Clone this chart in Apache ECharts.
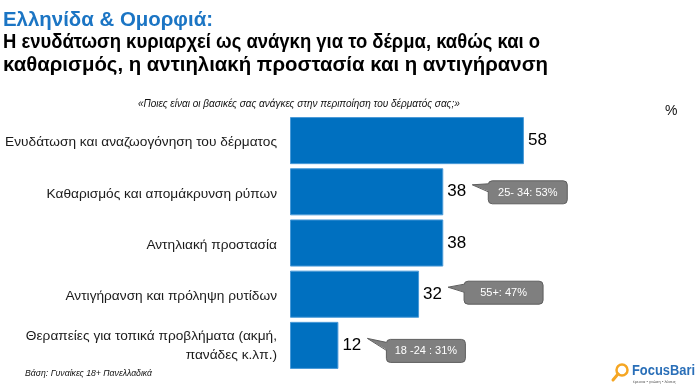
<!DOCTYPE html>
<html>
<head>
<meta charset="utf-8">
<script src="https://cdn.jsdelivr.net/npm/echarts@6/dist/echarts.min.js"></script>
<style>
html,body{margin:0;padding:0;background:#fff;}
#c{width:700px;height:390px;}
</style>
</head>
<body>
<div id="c"></div>
<script>
const categories = [
  'Ενυδάτωση και αναζωογόνηση του δέρματος',
  'Καθαρισμός και απομάκρυνση ρύπων',
  'Αντηλιακή προστασία',
  'Αντιγήρανση και πρόληψη ρυτίδων',
  'Θεραπείες για τοπικά προβλήματα (ακμή,\nπανάδες κ.λπ.)'
];
const values = [58, 38, 38, 32, 12];
const calloutCategories = [1, 3, 4];
const calloutTexts = ['25- 34: 53%', '55+: 47%', '18 -24 : 31%'];

const titleLine1 = 'Ελληνίδα & Ομορφιά:';
const titleLine2 = 'Η ενυδάτωση κυριαρχεί ως ανάγκη για το δέρμα, καθώς και ο';
const titleLine3 = 'καθαρισμός, η αντιηλιακή προστασία και η αντιγήρανση';
const question = '«Ποιες είναι οι βασικές σας ανάγκες στην περιποίηση του δέρματός σας;»';
const baseNote = 'Βάση: Γυναίκες 18+ Πανελλαδικά';

// layout only: annotation nudges and title line widths (px)
const calloutNudge = [[0, 0], [0, -2], [3, 5]];
const titleWidths = [210, 537, 545];

const FONT = '"Liberation Sans", Arial, sans-serif';
const TITLE_FONT = 'bold 20px ' + FONT;

const ctx = document.createElement('canvas').getContext('2d');
function textWidth(t, f) { ctx.font = f; return ctx.measureText(t).width; }
const titleScales = [titleLine1, titleLine2, titleLine3].map((t, i) => titleWidths[i] / textWidth(t, TITLE_FONT));
const logoFont = 'bold 14px ' + FONT;
const logoScale = 63 / textWidth('FocusBari', logoFont);

const calloutData = calloutCategories.map((c, i) => [values[c], c, i]);

const chart = echarts.init(document.getElementById('c'), null, {renderer: 'canvas'});

const option = {
  backgroundColor: '#ffffff',
  animation: false,
  grid: {left: 290, top: 115, width: 242, height: 256, containLabel: false},
  xAxis: {type: 'value', min: 0, max: 60, show: false},
  yAxis: {
    type: 'category', inverse: true, data: categories,
    axisLine: {show: false}, axisTick: {show: false}, splitLine: {show: false},
    axisLabel: {
      margin: 13, align: 'right',
      formatter: function (v) {
        if (v.indexOf('\n') >= 0) {
          return v.split('\n').map(s => '{m|' + s + '}').join('\n');
        }
        return '{s|' + v + '}';
      },
      rich: {
        s: {fontFamily: FONT, fontSize: 13.7, color: '#1a1a1a', padding: [4, 0, 0, 0], align: 'right'},
        m: {fontFamily: FONT, fontSize: 13.7, color: '#1a1a1a', lineHeight: 19, align: 'right'}
      }
    }
  },
  series: [
    {
      type: 'bar',
      data: values,
      barCategoryGap: '8%',
      itemStyle: {color: '#0070C0', borderColor: '#4a9ad8', borderWidth: 1},
      label: {
        show: true, position: 'right', distance: 4,
        fontFamily: FONT, fontSize: 17, color: '#000'
      },
      z: 2
    },
    {
      type: 'custom',
      data: calloutData,
      encode: {x: 0, y: 1},
      z: 5,
      renderItem: function (params, api) {
        const p = api.coord([api.value(0), api.value(1)]);
        const idx = api.value(2);
        const nd = calloutNudge[idx];
        const bx = p[0] + 45 + nd[0], by = p[1] - 11 + nd[1], bw = 79, bh = 23;
        const tip = [p[0] + 29, p[1] - 7];
        return {
          type: 'group',
          children: [
            {
              type: 'rect',
              shape: {x: bx, y: by, width: bw, height: bh, r: 4},
              style: {fill: '#7f7f7f', stroke: '#5e5e5e', lineWidth: 1}
            },
            {
              type: 'polygon',
              shape: {points: [tip, [bx + 1.5, by + 3], [bx + 1.5, by + 11]]},
              style: {fill: '#7f7f7f', stroke: null}
            },
            {
              type: 'polyline',
              shape: {points: [[bx, by + 3], tip, [bx, by + 11]]},
              style: {stroke: '#5e5e5e', lineWidth: 1, fill: null}
            },
            {
              type: 'text',
              style: {
                text: calloutTexts[idx], x: bx + bw / 2, y: by + bh / 2 + 0.5,
                align: 'center', verticalAlign: 'middle',
                font: '11px ' + FONT, fill: '#ffffff'
              }
            }
          ]
        };
      }
    }
  ],
  graphic: [
    {type: 'text', x: 3, y: 20, scaleX: titleScales[0], style: {text: titleLine1, x: 0, y: 0, verticalAlign: 'middle', font: TITLE_FONT, fill: '#1b75c4'}},
    {type: 'text', x: 3, y: 42, scaleX: titleScales[1], style: {text: titleLine2, x: 0, y: 0, verticalAlign: 'middle', font: TITLE_FONT, fill: '#000'}},
    {type: 'text', x: 3, y: 65, scaleX: titleScales[2], style: {text: titleLine3, x: 0, y: 0, verticalAlign: 'middle', font: TITLE_FONT, fill: '#000'}},
    {type: 'text', left: 138, top: 99, style: {text: question, font: 'italic 10px ' + FONT, fill: '#111'}},
    {type: 'text', left: 665, top: 104, style: {text: '%', font: '14px ' + FONT, fill: '#111'}},
    {type: 'text', left: 25, top: 369, style: {text: baseNote, font: 'italic 8.7px ' + FONT, fill: '#111'}},
    {type: 'circle', shape: {cx: 622, cy: 370, r: 5.5}, style: {fill: 'none', stroke: '#f5a623', lineWidth: 2.5}},
    {type: 'line', shape: {x1: 618, y1: 374, x2: 613, y2: 380}, style: {stroke: '#f5a623', lineWidth: 3, lineCap: 'round'}},
    {type: 'text', x: 632, y: 371, scaleX: logoScale, style: {text: 'FocusBari', x: 0, y: 0, verticalAlign: 'middle', font: logoFont, fill: '#2a6fb8'}},
    {type: 'text', left: 633, top: 380, style: {text: 'έρευνα • γνώση • λύσεις', font: '4px ' + FONT, fill: '#555'}}
  ]
};
chart.setOption(option);
</script>
</body>
</html>
